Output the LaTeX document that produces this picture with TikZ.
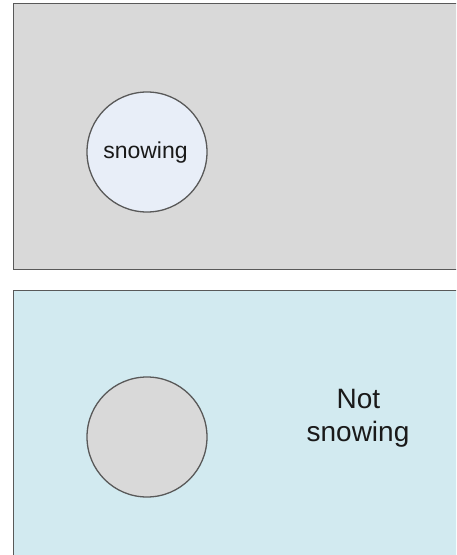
\documentclass[tikz,border=0pt]{standalone}
\usepackage{fontspec}
\setmainfont{Liberation Sans}
\definecolor{panelgray}{HTML}{D9D9D9}
\definecolor{panelblue}{HTML}{D2EAF0}
\definecolor{circlelight}{HTML}{E8EEF8}
\definecolor{edgegray}{HTML}{595959}
\definecolor{textdark}{HTML}{1A1A1A}
\begin{document}
\begin{tikzpicture}[x=1pt,y=-1pt,
  panel/.style={draw=edgegray,line width=1.5pt},
  disc/.style={circle,draw=edgegray,line width=1.3pt,minimum size=120pt,inner sep=0pt},
  lbl/.style={anchor=base,text=textdark,inner sep=0pt}]
\useasboundingbox (0,0) rectangle (456,555);
\clip (0,0) rectangle (456,555);
\fill[white] (0,0) rectangle (456,555);
\draw[panel,fill=panelgray] (13.5,3.5) rectangle (470,269.5);
\draw[panel,fill=panelblue] (13.5,290.5) rectangle (470,570);
\node[disc,fill=circlelight] (c1) at (147,152) {};
\node[lbl,font=\fontsize{23}{27}\selectfont] (t1) at (145.5,158.3) {snowing};
\node[disc,fill=panelgray] (c2) at (147,437) {};
\node[lbl,font=\fontsize{28}{33}\selectfont] (t2) at (358.5,408.3) {Not};
\node[lbl,font=\fontsize{28}{33}\selectfont] (t3) at (358,441.7) {snowing};
\end{tikzpicture}
\end{document}
